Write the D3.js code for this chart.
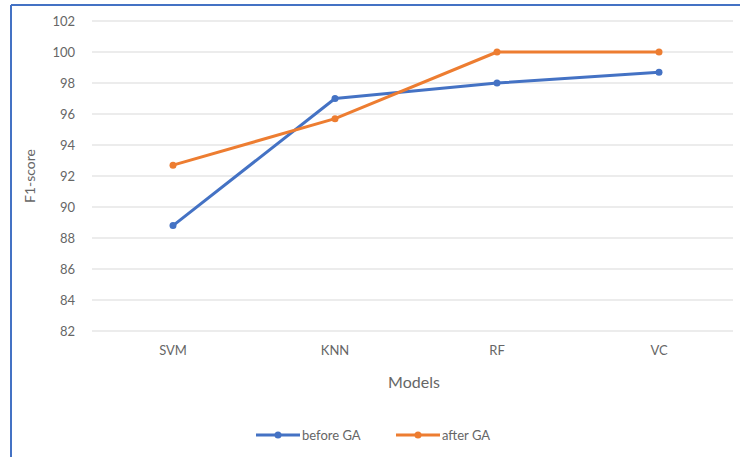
<!DOCTYPE html>
<html>
<head>
<meta charset="utf-8">
<script src="https://cdn.jsdelivr.net/npm/d3@7"></script>
<style>
  html, body { margin: 0; padding: 0; background: #fff; }
  svg { display: block; font-family: Lato, "Open Sans", sans-serif; }
</style>
</head>
<body>
<svg id="chart" width="740" height="457"></svg>
<script>
// F1-score per model, before and after GA tuning
const models = ["SVM", "KNN", "RF", "VC"];
const beforeGA = [88.8, 97.0, 98.0, 98.7];
const afterGA = [92.7, 95.7, 100.0, 100.0];
const yTicks = [82, 84, 86, 88, 90, 92, 94, 96, 98, 100, 102];

const series = [
  { name: "before GA", values: beforeGA, color: "#4472C4" },
  { name: "after GA", values: afterGA, color: "#ED7D31" }
];

const svg = d3.select("#chart");
const W = 740, H = 457;
const plot = { left: 92, right: 740, top: 21, bottom: 331 };

// chart frame
svg.append("line").attr("x1", 11).attr("x2", W).attr("y1", 5).attr("y2", 5)
  .attr("stroke", "#4472C4").attr("stroke-width", 2);
svg.append("line").attr("x1", 11).attr("x2", 11).attr("y1", 5).attr("y2", H)
  .attr("stroke", "#4472C4").attr("stroke-width", 2);

const x = d3.scaleBand().domain(models).range([plot.left, plot.right]);
const y = d3.scaleLinear().domain([82, 102]).range([plot.bottom, plot.top]);

// gridlines
svg.append("g")
  .selectAll("line").data(yTicks).join("line")
  .attr("x1", plot.left).attr("x2", 733)
  .attr("y1", d => y(d)).attr("y2", d => y(d))
  .attr("stroke", "#d9d9d9").attr("stroke-width", 1);

// y axis labels
const yAxis = svg.append("g")
  .attr("transform", `translate(${plot.left - 17},0)`)
  .call(d3.axisLeft(y).tickValues(yTicks).tickSize(0).tickPadding(0));
yAxis.select(".domain").remove();
yAxis.selectAll("text").attr("fill", "#666").attr("font-size", 13).attr("font-family", "Lato, sans-serif");

// x axis labels
const xAxis = svg.append("g")
  .attr("transform", `translate(0,${plot.bottom + 15})`)
  .call(d3.axisBottom(x).tickSize(0).tickPadding(0));
xAxis.select(".domain").remove();
xAxis.selectAll("text").attr("fill", "#666").attr("font-size", 13).attr("font-family", "Lato, sans-serif");

// axis titles
svg.append("text")
  .attr("transform", `translate(35,${(plot.top + plot.bottom) / 2}) rotate(-90)`)
  .attr("text-anchor", "middle")
  .attr("fill", "#666").attr("font-size", 14)
  .text("F1-score");
svg.append("text")
  .attr("x", 414).attr("y", 388)
  .attr("text-anchor", "middle")
  .attr("fill", "#666").attr("font-size", 16)
  .text("Models");

// lines and markers
const line = d3.line().x((d, i) => x(models[i]) + x.bandwidth() / 2).y(d => y(d));
series.forEach(s => {
  svg.append("path").datum(s.values)
    .attr("d", line).attr("fill", "none")
    .attr("stroke", s.color).attr("stroke-width", 3)
    .attr("stroke-linejoin", "round");
  svg.append("g").selectAll("circle").data(s.values).join("circle")
    .attr("cx", (d, i) => x(models[i]) + x.bandwidth() / 2)
    .attr("cy", d => y(d))
    .attr("r", 3.5)
    .attr("fill", s.color);
});

// legend
const legend = svg.append("g").attr("transform", "translate(256,435)");
const legX = [0, 140];
series.forEach((s, i) => {
  const g = legend.append("g").attr("transform", `translate(${legX[i]},0)`);
  g.append("line").attr("x1", 0).attr("x2", 44).attr("y1", 0).attr("y2", 0)
    .attr("stroke", s.color).attr("stroke-width", 3);
  g.append("circle").attr("cx", 22).attr("cy", 0).attr("r", 3.5).attr("fill", s.color);
  g.append("text").attr("x", 46).attr("y", 0).attr("dy", "0.35em")
    .attr("fill", "#666").attr("font-size", 13).text(s.name);
});
</script>
</body>
</html>
